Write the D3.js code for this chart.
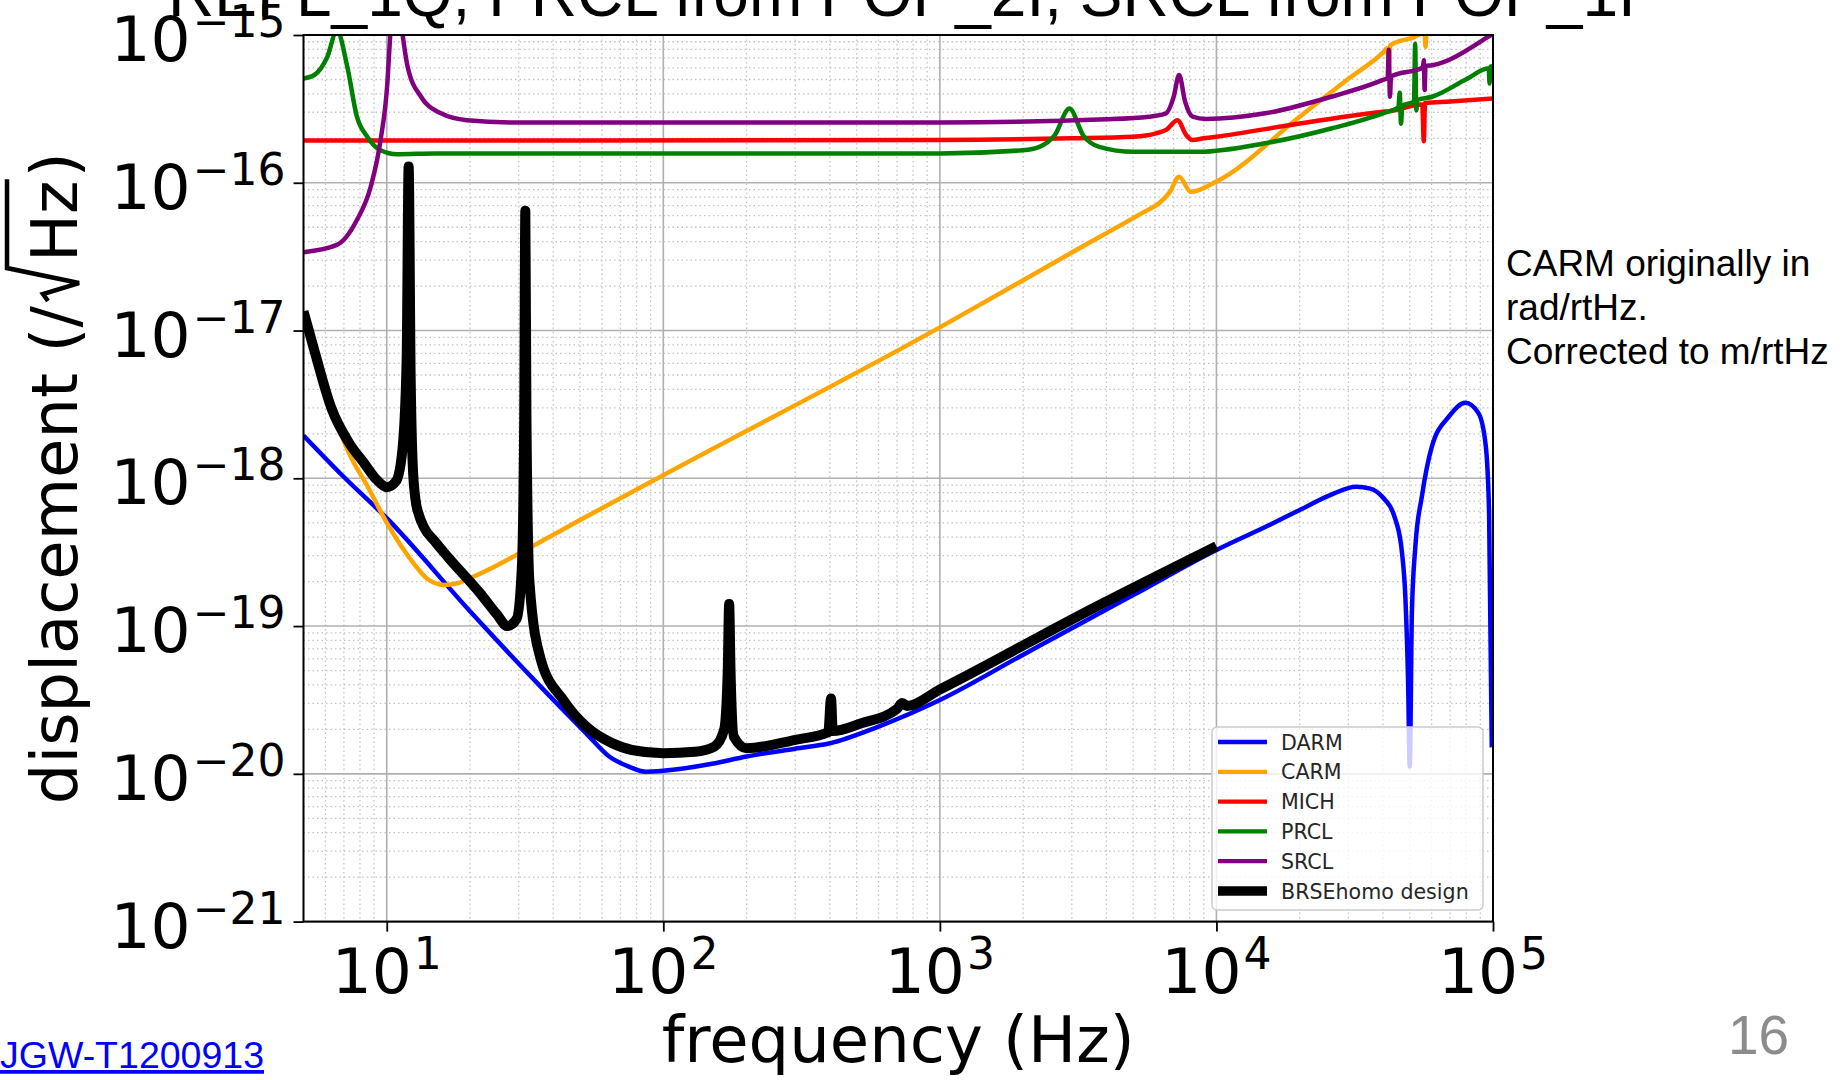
<!DOCTYPE html>
<html>
<head>
<meta charset="utf-8">
<script src="https://cdn.jsdelivr.net/npm/d3@7"></script>
<style>
  body { margin: 0; background: #fff; }
  svg { display: block; }
</style>
</head>
<body>
<div id="chart"></div>
<script>
// series names and colours, in legend order
const seriesNames = ["DARM", "CARM", "MICH", "PRCL", "SRCL", "BRSEhomo design"]
const seriesColors = ["#0000ff", "#ffa500", "#ff0000", "#008000", "#800080", "#000000"]

// [frequency Hz, displacement /rtHz]
const darmData = [
  [5, 1.95e-18], [7, 1.02e-18], [10, 5.37e-19], [20, 1.26e-19], [36, 3.89e-20],
  [52.6, 1.88e-20], [63.7, 1.31e-20], [75, 1.12e-20], [86, 1.035e-20], [100, 1.05e-20],
  [150, 1.17e-20], [200, 1.31e-20], [300, 1.48e-20], [400, 1.61e-20], [600, 2.09e-20],
  [1000, 3.16e-20], [2000, 6.4e-20], [3500, 1.13e-19], [5000, 1.62e-19], [10000, 3.27e-19],
  [15000, 4.68e-19], [20000, 6.1e-19], [26000, 7.76e-19], [32000, 8.77e-19], [36000, 8.51e-19],
  [39700, 7.52e-19], [44400, 5.25e-19], [46900, 3.11e-19], [48200, 1.58e-19], [49300, 4.31e-20],
  [50000, 1.12e-20], [50900, 1.23e-19], [52400, 3.47e-19], [55300, 7.52e-19], [60100, 1.64e-18],
  [69200, 2.61e-18], [79400, 3.24e-18], [88700, 2.75e-18], [94200, 1.64e-18], [96800, 5.75e-19],
  [99000, 1.51e-20]
]

const carmData = [
  [5, 1.32e-17], [6.3, 3.02e-18], [7.3, 1.48e-18], [8.5, 8.91e-19], [10, 5.01e-19],
  [12.5, 2.66e-19], [14, 2.09e-19], [16.1, 1.9e-19], [18, 1.95e-19], [20, 2.11e-19],
  [25, 2.57e-19], [30, 3.09e-19], [50, 5.22e-19], [100, 1.05e-18], [1000, 1.05e-17],
  [3000, 3.37e-17], [5500, 6.38e-17], [6200, 7.26e-17], [6800, 8.71e-17], [7330, 1.1e-16],
  [8080, 8.69e-17], [10000, 1.02e-16], [20000, 2.8e-16], [30000, 5.05e-16], [40000, 7.59e-16],
  [41500, 8.13e-16], [42000, 6.46e-16], [42500, 8.51e-16], [54000, 1.01e-15], [56500, 1.12e-15],
  [57000, 8.32e-16], [57500, 1.15e-15]
]

const michData = [
  [5, 1.93e-16], [1000, 1.95e-16], [3000, 2.0e-16], [5000, 2.05e-16], [6050, 2.16e-16],
  [6600, 2.29e-16], [7230, 2.65e-16], [7780, 2.1e-16], [8180, 1.95e-16], [9000, 2.0e-16],
  [10000, 2.05e-16], [20000, 2.52e-16], [30000, 2.82e-16], [40000, 3.02e-16], [42000, 3.05e-16],
  [55500, 3.39e-16], [56200, 1.91e-16], [56800, 3.47e-16], [70000, 3.55e-16], [100000, 3.72e-16]
]

const prclData = [
  [5, 5.08e-16], [5.47, 5.36e-16], [6.1, 7.13e-16], [6.6, 1.07e-15], [7.2, 6.1e-16],
  [7.8, 2.8e-16], [8.5, 2.05e-16], [9.5, 1.66e-16], [10.9, 1.56e-16], [15, 1.58e-16],
  [1000, 1.58e-16], [2000, 1.66e-16], [2290, 1.75e-16], [2600, 2.09e-16], [2940, 3.18e-16],
  [3300, 2.09e-16], [3770, 1.75e-16], [5000, 1.62e-16], [8700, 1.62e-16], [15000, 1.85e-16],
  [26000, 2.33e-16], [40000, 2.95e-16], [45500, 3.24e-16], [46000, 4.07e-16], [46500, 2.51e-16],
  [47000, 3.31e-16], [51800, 3.55e-16], [52300, 8.71e-16], [52800, 3.09e-16], [53300, 3.63e-16],
  [60200, 3.82e-16], [80000, 5.01e-16], [96500, 5.96e-16], [97200, 4.7e-16], [97800, 6.1e-16],
  [100000, 6.17e-16]
]

const srclData = [
  [5, 3.39e-17], [6.6, 3.8e-17], [7.8, 5.6e-17], [8.75, 9.4e-17], [9.5, 1.95e-16],
  [10.05, 4.71e-16], [10.3, 1.02e-15], [10.8, 2.5e-15], [11.4, 1.02e-15], [11.9, 6.1e-16],
  [13.3, 3.82e-16], [15.7, 2.95e-16], [19.5, 2.65e-16], [28.8, 2.56e-16], [1000, 2.56e-16],
  [4000, 2.69e-16], [5700, 2.8e-16], [6570, 2.95e-16], [7000, 3.8e-16], [7330, 5.36e-16],
  [7700, 3.55e-16], [8200, 2.8e-16], [9160, 2.7e-16], [15000, 2.95e-16], [26000, 3.82e-16],
  [39800, 4.95e-16], [41600, 5.13e-16], [42000, 7.94e-16], [42400, 3.82e-16], [42800, 5.25e-16],
  [55800, 6.03e-16], [56200, 6.76e-16], [56600, 4.24e-16], [57000, 6.17e-16], [60200, 6.25e-16],
  [96000, 9.72e-16], [100000, 1.02e-15]
]

const brseData = [
  [5, 1.35e-17], [5.5, 7.08e-18], [6.3, 3.0e-18], [7.3, 1.74e-18], [8.3, 1.26e-18],
  [9.2, 9.77e-19], [10, 8.71e-19], [10.8, 9.55e-19], [11.4, 1.58e-18], [11.8, 6.31e-18],
  [12.0, 1.29e-16], [12.2, 5.0e-18], [12.4, 1.3e-18], [12.7, 7.2e-19], [13.1, 5.6e-19],
  [13.6, 4.7e-19], [15, 3.7e-19], [16.6, 2.95e-19],
  [21.8, 1.66e-19], [25, 1.2e-19], [27.3, 1.0e-19], [29.5, 1.12e-19], [30.8, 2.51e-19],
  [31.4, 2.51e-18], [31.7, 6.46e-17], [32.0, 2.51e-18], [32.8, 2.0e-19], [36, 6.0e-20],
  [43.5, 3.16e-20], [52.6, 2.09e-20], [65, 1.62e-20], [77, 1.45e-20], [100, 1.38e-20],
  [130, 1.41e-20], [153, 1.53e-20], [166, 2.0e-20], [171, 5.0e-20], [173, 1.41e-19],
  [175, 5.0e-20], [180, 1.78e-20], [200, 1.49e-20], [300, 1.7e-20], [395, 1.91e-20],
  [404, 3.24e-20], [410, 1.95e-20], [520, 2.2e-20], [700, 2.75e-20], [731, 3.02e-20],
  [760, 2.88e-20], [1000, 3.72e-20], [3500, 1.29e-19], [10000, 3.47e-19]
]

const allSeries = [darmData, carmData, michData, prclData, srclData, brseData]
const seriesWidths = [4.5, 4.5, 4.5, 4.5, 4.5, 10]

// axis ticks (decades) and their exponents
const xTickValues = [10, 100, 1000, 10000, 100000]
const xTickExps = ["1", "2", "3", "4", "5"]
const yTickValues = [1e-21, 1e-20, 1e-19, 1e-18, 1e-17, 1e-16, 1e-15]
const yTickExps = ["\u221221", "\u221220", "\u221219", "\u221218", "\u221217", "\u221216", "\u221215"]

const W = 1848, H = 1080
const plotL = 303.5, plotR = 1493, plotT = 35, plotB = 921.6
const chartFont = "'DejaVu Sans', sans-serif"
const slideFont = "'Liberation Sans', Arial, sans-serif"

const svg = d3.select("#chart").append("svg")
  .attr("width", W).attr("height", H)

const x = d3.scaleLog().domain([5, 1e5]).range([plotL, plotR])
const y = d3.scaleLog().domain([1e-21, 1e-15]).range([plotB, plotT])

// minor tick positions
const xMinor = []
for (let d = 0; d <= 4; d++) for (let k = 2; k <= 9; k++) {
  const v = k * Math.pow(10, d)
  if (v >= 5 && v <= 1e5) xMinor.push(v)
}
const yMinor = []
for (let d = -21; d < -15; d++) for (let k = 2; k <= 9; k++) yMinor.push(k * Math.pow(10, d))

// title (cut off by top edge of the slide)
svg.append("text")
  .attr("x", 168).attr("y", 16)
  .attr("font-family", slideFont).attr("font-size", 64)
  .text("REFL_1Q, PRCL from POP_2I, SRCL from POP_1I")

// grid
const grid = svg.append("g")
grid.selectAll(".vminor").data(xMinor).enter().append("line")
  .attr("x1", d => x(d)).attr("x2", d => x(d)).attr("y1", plotT).attr("y2", plotB)
  .attr("stroke", "#c4c4c4").attr("stroke-width", 1.3).attr("stroke-dasharray", "1.5,3")
grid.selectAll(".hminor").data(yMinor).enter().append("line")
  .attr("y1", d => y(d)).attr("y2", d => y(d)).attr("x1", plotL).attr("x2", plotR)
  .attr("stroke", "#c4c4c4").attr("stroke-width", 1.3).attr("stroke-dasharray", "1.5,3")
grid.selectAll(".vmajor").data(xTickValues).enter().append("line")
  .attr("x1", d => x(d)).attr("x2", d => x(d)).attr("y1", plotT).attr("y2", plotB)
  .attr("stroke", "#b0b0b0").attr("stroke-width", 1.6)
grid.selectAll(".hmajor").data(yTickValues).enter().append("line")
  .attr("y1", d => y(d)).attr("y2", d => y(d)).attr("x1", plotL).attr("x2", plotR)
  .attr("stroke", "#b0b0b0").attr("stroke-width", 1.6)

// lines
svg.append("clipPath").attr("id", "plotclip")
  .append("rect").attr("x", plotL).attr("y", plotT)
  .attr("width", plotR - plotL).attr("height", plotB - plotT)

const line = d3.line()
  .x(d => x(d[0]))
  .y(d => y(d[1]))
  .curve(d3.curveMonotoneX)

const lines = svg.append("g").attr("clip-path", "url(#plotclip)")
allSeries.forEach((data, i) => {
  lines.append("path")
    .datum(data)
    .attr("d", line)
    .attr("fill", "none")
    .attr("stroke", seriesColors[i])
    .attr("stroke-width", seriesWidths[i])
    .attr("stroke-linejoin", "round")
    .attr("stroke-linecap", "butt")
})

// axes
const xAxisGroup = svg.append("g").attr("transform", `translate(0, ${plotB})`)
xAxisGroup.call(d3.axisBottom(x).tickValues(xMinor).tickSize(5).tickFormat(""))
xAxisGroup.call(d3.axisBottom(x).tickValues(xTickValues).tickSize(10).tickFormat(""))

const yAxisGroup = svg.append("g").attr("transform", `translate(${plotL}, 0)`)
yAxisGroup.call(d3.axisLeft(y).tickValues(yMinor).tickSize(5).tickFormat(""))
yAxisGroup.call(d3.axisLeft(y).tickValues(yTickValues).tickSize(10).tickFormat(""))

svg.selectAll(".domain").remove()
svg.selectAll(".tick line").attr("stroke", "#000").attr("stroke-width", 1.8)

// spines
svg.append("rect")
  .attr("x", plotL).attr("y", plotT)
  .attr("width", plotR - plotL).attr("height", plotB - plotT)
  .attr("fill", "none").attr("stroke", "#000").attr("stroke-width", 2)

// tick labels 10^n
xTickValues.forEach((v, i) => {
  const t = svg.append("text")
    .attr("x", x(v)).attr("y", plotB + 71)
    .attr("text-anchor", "middle")
    .attr("font-family", chartFont)
  t.append("tspan").attr("font-size", 63).text("10")
  t.append("tspan").attr("font-size", 44).attr("dx", 2).attr("dy", -24).text(xTickExps[i])
})
yTickValues.forEach((v, i) => {
  const t = svg.append("text")
    .attr("x", plotL - 18).attr("y", y(v) + 26)
    .attr("text-anchor", "end")
    .attr("font-family", chartFont)
  t.append("tspan").attr("font-size", 63).text("10")
  t.append("tspan").attr("font-size", 44).attr("dx", 2).attr("dy", -24).text(yTickExps[i])
})

// axis labels
svg.append("text")
  .attr("x", (plotL + plotR) / 2).attr("y", 1062)
  .attr("text-anchor", "middle")
  .attr("font-family", chartFont).attr("font-size", 64)
  .text("frequency (Hz)")

const yl = svg.append("g")
  .attr("transform", `translate(77, ${(plotT + plotB) / 2}) rotate(-90)`)
  .attr("font-family", chartFont).attr("font-size", 64)
const part1 = yl.append("text").text("displacement (/")
const w1 = part1.node().getComputedTextLength()
const radW = 44
const part2 = yl.append("text").attr("x", w1 + radW).text("Hz")
const w2 = part2.node().getComputedTextLength()
const part3 = yl.append("text").attr("x", w1 + radW + w2 + 3).text(")")
const w3 = part3.node().getComputedTextLength()
const total = w1 + radW + w2 + 3 + w3
yl.append("path")
  .attr("d", `M${w1 + 5},-29 L${w1 + 12},-34 L${w1 + 23},2 L${w1 + 38},-70 L${w1 + radW + w2 + 1},-70`)
  .attr("fill", "none").attr("stroke", "#000").attr("stroke-width", 4.5)
  .attr("stroke-linejoin", "miter")
yl.selectAll("text, path").attr("transform", `translate(${-total / 2}, 0)`)

// legend
const lg = svg.append("g")
lg.append("rect")
  .attr("x", 1212).attr("y", 727).attr("width", 271).attr("height", 183)
  .attr("rx", 5).attr("fill", "#fff").attr("fill-opacity", 0.8)
  .attr("stroke", "#cccccc").attr("stroke-width", 1.5)
seriesNames.forEach((name, i) => {
  const ry = 742 + i * 29.8
  lg.append("line")
    .attr("x1", 1218).attr("x2", 1267).attr("y1", ry).attr("y2", ry)
    .attr("stroke", seriesColors[i]).attr("stroke-width", seriesWidths[i] * 0.95)
  lg.append("text")
    .attr("x", 1281).attr("y", ry + 7.5)
    .attr("font-family", chartFont).attr("font-size", 20.6)
    .attr("fill", "#262626")
    .text(name)
})

// slide annotations
const note = svg.append("text")
  .attr("font-family", slideFont).attr("font-size", 37).attr("fill", "#000")
const noteLines = ["CARM originally in", "rad/rtHz.", "Corrected to m/rtHz"]
noteLines.forEach((s, i) => {
  note.append("tspan").attr("x", 1506).attr("y", 276 + i * 44).text(s)
})

svg.append("text")
  .attr("x", 0).attr("y", 1068)
  .attr("font-family", slideFont).attr("font-size", 37.5)
  .attr("fill", "#0000ff").attr("text-decoration", "underline")
  .text("JGW-T1200913")

svg.append("text")
  .attr("x", 1728).attr("y", 1054)
  .attr("font-family", slideFont).attr("font-size", 55)
  .attr("fill", "#8c8c8c")
  .text("16")
</script>
</body>
</html>
